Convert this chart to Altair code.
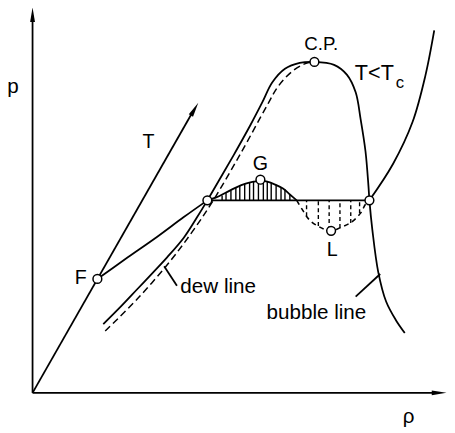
import altair as alt
import pandas as pd

# ---- data (rho = density axis, p = pressure axis, arbitrary units) ----
env_rho = [72, 90, 107, 124, 137, 154, 167, 178, 192, 207, 222, 234, 244, 257, 272, 287,
           307, 320, 329, 334, 339, 342, 343, 346, 352, 360, 370, 379]
env_p = [70, 88, 106, 124, 138, 158, 178, 196, 220, 246, 273, 296, 316, 330, 336, 337,
         334, 324, 306, 279, 246, 211, 196, 166, 123, 93, 74, 61]

dew_rho = [74, 107, 140, 164, 184, 212, 239, 250, 264, 277, 284]
dew_p = [63, 96, 134, 166, 196, 244, 293, 312, 327, 335, 337]

f_rho = [66, 97, 127, 154, 178]
f_p = [116, 138, 159, 179, 196]

liq_rho = [343, 367, 387, 400, 409]
liq_p = [196, 233, 276, 323, 369]

gas_loop_rho = [178, 187, 197, 207, 217, 225, 232, 239, 247, 255, 262, 269]
gas_loop_p = [196, 199, 204, 209, 213, 215, 216, 215, 212, 208, 202, 196]

liq_loop_rho = [269, 275, 282, 292, 304, 315, 325, 334, 339, 343]
liq_loop_p = [196, 186, 176, 169, 165, 169, 174, 183, 192, 196]

tie_rho = [178, 343]
tie_p = [196, 196]

t_rho = [0, 163]
t_p = [0, 286]

yaxis_rho = [0, 0]
yaxis_p = [0, 384]
xaxis_rho = [0, 410]
xaxis_p = [0, 0]

dew_ptr_rho = [134, 147]
dew_ptr_p = [129, 109]
bub_ptr_rho = [354, 329]
bub_ptr_p = [121, 98]

hatch_up_rho = [193, 197, 202, 207, 211, 216, 221, 225, 230, 235, 239, 243, 248, 253, 257, 262]
hatch_up_top = [201, 204, 206, 209, 211, 213, 214, 215, 216, 216, 215, 214, 212, 209, 207, 202]
hatch_base = 196

hatch_lo_rho = [279, 291, 302, 313, 324, 333]
hatch_lo_bot = [180, 170, 166, 168, 173, 183]

pt_name = ["F", "A", "G", "C.P.", "L", "B"]
pt_rho = [66, 178, 232, 287, 304, 343]
pt_p = [116, 196, 217, 337, 165, 196]

arrow_rho = [165, 0, 414]
arrow_p = [289, 385, 0]
arrow_ang = [30, 0, 90]

lab_text = ["p", "ρ", "T", "F", "G", "L", "C.P.", "T<T", "c", "dew line", "bubble line"]
lab_rho = [-20, 383, 118, 49, 232, 305, 294, 348, 374, 189, 289]
lab_p = [311, -25, 255, 117, 233, 145, 355, 326, 315, 108, 81]
lab_size = [21, 21, 20, 20, 20, 20, 19, 22, 17, 21, 21]

# ---- build tables ----
def series(name, xs, ys):
    return pd.DataFrame({"rho": xs, "p": ys, "series": name, "i": range(len(xs))})

solid = pd.concat([
    series("envelope", env_rho, env_p),
    series("F", f_rho, f_p),
    series("liquid", liq_rho, liq_p),
    series("gasloop", gas_loop_rho, gas_loop_p),
    series("tie", tie_rho, tie_p),
    series("T", t_rho, t_p),
    series("yaxis", yaxis_rho, yaxis_p),
    series("xaxis", xaxis_rho, xaxis_p),
    series("dewptr", dew_ptr_rho, dew_ptr_p),
    series("bubptr", bub_ptr_rho, bub_ptr_p),
])
dew = series("dew", dew_rho, dew_p)
liqloop = series("liqloop", liq_loop_rho, liq_loop_p)

hup = pd.DataFrame({"rho": hatch_up_rho, "p": [hatch_base] * len(hatch_up_rho), "p2": hatch_up_top})
hlo = pd.DataFrame({"rho": hatch_lo_rho, "p": hatch_lo_bot, "p2": [hatch_base] * len(hatch_lo_rho)})
pts = pd.DataFrame({"name": pt_name, "rho": pt_rho, "p": pt_p})
arrows = pd.DataFrame({"rho": arrow_rho, "p": arrow_p, "ang": arrow_ang})
labels = pd.DataFrame({"t": lab_text, "rho": lab_rho, "p": lab_p, "fs": lab_size})

xs = alt.Scale(domain=[-25, 422], nice=False, zero=False)
ys = alt.Scale(domain=[-37, 388], nice=False, zero=False)
X = alt.X("rho:Q", scale=xs, axis=None)
Y = alt.Y("p:Q", scale=ys, axis=None)

solid_layer = alt.Chart(solid).mark_line(
    color="black", strokeWidth=1.8, interpolate="catmull-rom"
).encode(x=X, y=Y, detail="series:N", order="i:Q")

dew_layer = alt.Chart(dew).mark_line(
    color="black", strokeWidth=1.5, strokeDash=[7, 4], interpolate="catmull-rom"
).encode(x=X, y=Y, order="i:Q")

liqloop_layer = alt.Chart(liqloop).mark_line(
    color="black", strokeWidth=1.6, strokeDash=[5, 4], interpolate="catmull-rom"
).encode(x=X, y=Y, order="i:Q")

hup_layer = alt.Chart(hup).mark_rule(color="black", strokeWidth=1.4).encode(
    x=X, y=Y, y2="p2:Q")
hlo_layer = alt.Chart(hlo).mark_rule(color="black", strokeWidth=1.4, strokeDash=[4, 3]).encode(
    x=X, y=Y, y2="p2:Q")

arrow_layer = alt.Chart(arrows).mark_point(
    shape="M0,-1L0.33,1L-0.33,1Z", filled=True, color="black", size=225, opacity=1
).encode(x=X, y=Y, angle=alt.Angle("ang:Q", scale=None))

pt_layer = alt.Chart(pts).mark_point(
    shape="circle", filled=True, fill="white", stroke="black", strokeWidth=1.5,
    size=80, opacity=1
).encode(x=X, y=Y)

text_layer = alt.Chart(labels).mark_text(
    font="Liberation Sans", color="black", align="center", baseline="middle"
).encode(x=X, y=Y, text="t:N", size=alt.Size("fs:Q", scale=None))

chart = alt.layer(
    solid_layer, dew_layer, liqloop_layer, hup_layer, hlo_layer,
    arrow_layer, pt_layer, text_layer
).properties(
    width=447, height=425, padding=0,
    autosize=alt.AutoSizeParams(type="none")
).configure_view(stroke=None)

chart.save("out.html", embed_options={"renderer": "svg", "actions": False})
